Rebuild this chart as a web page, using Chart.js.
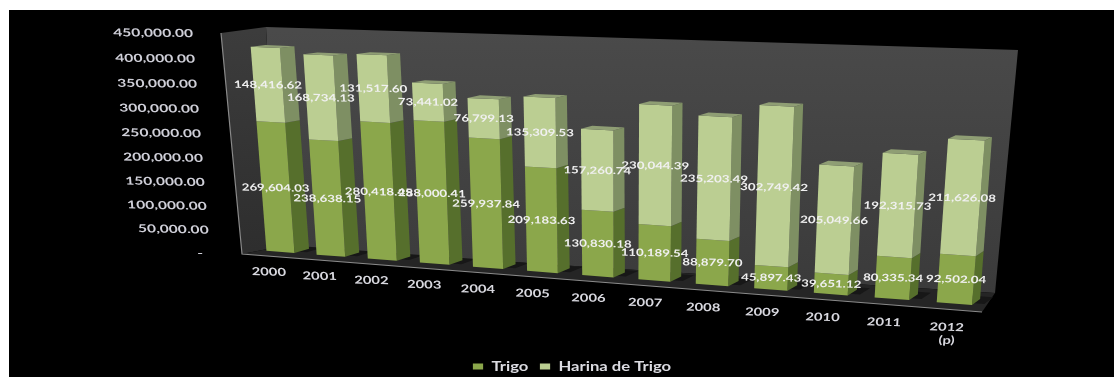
<!DOCTYPE html>
<html>
<head>
<meta charset="utf-8">
<title>Trigo y Harina de Trigo</title>
<script src="https://cdn.jsdelivr.net/npm/chart.js@4/dist/chart.umd.min.js"></script>
<style>
  html, body { margin: 0; padding: 0; background: #fff; overflow: hidden; }
  #wrap { position: absolute; left: 0; top: 0; width: 1114px; height: 377px; }
  canvas { filter: blur(0.45px); }
</style>
</head>
<body>
<div id="wrap"><canvas id="chart"></canvas></div>
<script>
const years = ['2000', '2001', '2002', '2003', '2004', '2005', '2006', '2007', '2008', '2009', '2010', '2011', ['2012', '(p)']];
const trigo = [269604.03, 238638.15, 280418.45, 288000.41, 259937.84, 209183.63, 130830.18, 110189.54, 88879.70, 45897.43, 39651.12, 80335.34, 92502.04];
const harina = [148416.62, 168734.13, 131517.60, 73441.02, 76799.13, 135309.53, 157260.74, 230044.39, 235203.49, 302749.42, 205049.66, 192315.73, 211626.08];

const LABEL_FONT = 'Lato, sans-serif';

// plane of the bar fronts on screen: value 0 / axis max, first / last category edge
const PLANE = { bl: [255.5, 250], br: [986, 306], tr: [1006, 58], tl: [238, 30] };
// how far one bar depth pushes a point, same corners
const DEPTH = { bl: [15, -4], br: [8, -6], tr: [6.7, -2.5], tl: [15, -1.5] };

function makeHomography(q) {
    const [x0, y0] = q.bl, [x1, y1] = q.br, [x2, y2] = q.tr, [x3, y3] = q.tl;
    const dx1 = x1 - x2, dx2 = x3 - x2, sx = x0 - x1 + x2 - x3;
    const dy1 = y1 - y2, dy2 = y3 - y2, sy = y0 - y1 + y2 - y3;
    const den = dx1 * dy2 - dx2 * dy1;
    const g = (sx * dy2 - dx2 * sy) / den;
    const h = (dx1 * sy - sx * dy1) / den;
    const a = x1 - x0 + g * x1, b = x3 - x0 + h * x3;
    const d = y1 - y0 + g * y1, e = y3 - y0 + h * y3;
    return (u, v) => {
        const w = g * u + h * v + 1;
        return [(a * u + b * v + x0) / w, (d * u + e * v + y0) / w];
    };
}
const homography = makeHomography(PLANE);

function project(u, v, depth) {
    const p = homography(u, v);
    const mix = i => (DEPTH.bl[i] * (1 - u) + DEPTH.br[i] * u) * (1 - v) + (DEPTH.tl[i] * (1 - u) + DEPTH.tr[i] * u) * v;
    return [p[0] + mix(0) * depth, p[1] + mix(1) * depth];
}

function fillPoly(ctx, pts, color) {
    ctx.beginPath();
    pts.forEach((p, i) => i ? ctx.lineTo(p[0], p[1]) : ctx.moveTo(p[0], p[1]));
    ctx.closePath();
    ctx.fillStyle = color;
    ctx.fill();
}

// text sitting in the tilted plane, stretched sideways like the original
function planeText(ctx, text, u, v, depth, opts) {
    const p = project(u, v, depth);
    const q = project(u + 0.02, v, depth);
    const r = project(u, v + 0.02, depth);
    let ex = [q[0] - p[0], q[1] - p[1]];
    let ey = [p[0] - r[0], p[1] - r[1]];
    const lx = Math.hypot(ex[0], ex[1]), ly = Math.hypot(ey[0], ey[1]);
    ex = [ex[0] / lx * opts.stretch, ex[1] / lx * opts.stretch * opts.tilt];
    ey = [ey[0] / ly, ey[1] / ly];
    ctx.save();
    ctx.setTransform(ex[0], ex[1], ey[0], ey[1], p[0] + (opts.dx || 0), p[1] + (opts.dy || 0));
    ctx.font = opts.font;
    ctx.fillStyle = opts.color;
    ctx.textAlign = opts.align;
    ctx.textBaseline = 'middle';
    ctx.fillText(text, 0, 0);
    ctx.restore();
}

function drawRoom(ctx) {
    const back = ctx.createLinearGradient(0, 30, 0, 300);
    back.addColorStop(0, '#4a4a4a');
    back.addColorStop(1, '#3a3a3a');
    fillPoly(ctx, [[266, 27], [1018, 50], [995, 293], [278, 247]], back);
    const side = ctx.createLinearGradient(0, 30, 0, 250);
    side.addColorStop(0, '#3c3c3c');
    side.addColorStop(1, '#2e2e2e');
    fillPoly(ctx, [[221, 33], [266, 27], [278, 247], [242, 254]], side);
    fillPoly(ctx, [[242, 254], [278, 247], [995, 293], [982, 312]], '#252525');
    ctx.strokeStyle = '#8a8a8a';
    ctx.lineWidth = 1.2;
    ctx.beginPath();
    ctx.moveTo(221, 33);
    ctx.lineTo(242, 254);
    ctx.lineTo(982, 312);
    ctx.stroke();
}

const faceColors = [
    { front: '#8ba74b', side: '#566f2c', top: '#6f8a3c' },
    { front: '#bbce92', side: '#7e8f63', top: '#8f9e74' }
];

function barBox(chart, el) {
    const area = chart.chartArea;
    return {
        u0: (el.x - el.width / 2 - area.left) / area.width,
        u1: (el.x + el.width / 2 - area.left) / area.width,
        v0: (area.bottom - el.base) / area.height,
        v1: (area.bottom - el.y) / area.height
    };
}

function drawShadow(ctx, chart, el) {
    const { u0, u1, v0 } = barBox(chart, el);
    fillPoly(ctx, [project(u0, v0, 0.3), project(u1 + 0.012, v0, 0.3), project(u1 + 0.012, v0, 1.4), project(u0, v0, 1.4)], '#171717');
}

function drawBar(ctx, chart, el, dsIndex) {
    const { u0, u1, v0, v1 } = barBox(chart, el);
    const c = faceColors[dsIndex];
    fillPoly(ctx, [project(u1, v0, 0), project(u1, v0, 1), project(u1, v1, 1), project(u1, v1, 0)], c.side);
    fillPoly(ctx, [project(u0, v0, 0), project(u1, v0, 0), project(u1, v1, 0), project(u0, v1, 0)], c.front);
    if (dsIndex === 1) {
        fillPoly(ctx, [project(u0, v1, 0), project(u1, v1, 0), project(u1, v1, 1), project(u0, v1, 1)], c.top);
    }
}

const perspective3d = {
    id: 'perspective3d',
    afterLayout(chart) {
        // the legend is wider and lower than chart.js puts it
        const legend = chart.legend;
        if (legend.stretched) return;
        legend.stretched = true;
        const draw = legend.draw.bind(legend);
        legend.draw = () => {
            const ctx = chart.ctx;
            const cx = (legend.left + legend.right) / 2;
            ctx.save();
            ctx.translate(cx, 8);
            ctx.scale(1.28, 1);
            ctx.translate(-cx, 0);
            draw();
            ctx.restore();
        };
    },
    beforeDraw(chart) {
        const ctx = chart.ctx;
        ctx.save();
        ctx.fillStyle = '#fff';
        ctx.fillRect(0, 0, chart.width, chart.height);
        ctx.fillStyle = '#000';
        ctx.fillRect(9, 10, chart.width - 9, chart.height - 10);
        drawRoom(ctx);
        ctx.restore();
    },
    beforeDatasetsDraw(chart) {
        const ctx = chart.ctx;
        const area = chart.chartArea;
        const metas = chart.data.datasets.map((ds, d) => chart.getDatasetMeta(d));
        ctx.save();
        metas[0].data.forEach(el => drawShadow(ctx, chart, el));
        for (let i = years.length - 1; i >= 0; i--) {
            metas.forEach((meta, d) => drawBar(ctx, chart, meta.data[i], d));
        }
        ctx.restore();

        // y axis labels
        const yScale = chart.scales.y;
        yScale.ticks.forEach(t => {
            const v = (area.bottom - yScale.getPixelForValue(t.value)) / area.height;
            planeText(ctx, t.label, 0, v, 0, {
                font: 'bold 11px ' + LABEL_FONT, color: '#cfcfd8', align: 'right', stretch: 1.42, tilt: 0.3, dx: -45, dy: 3.5
            });
        });

        // category labels, multi line ones go below
        const xScale = chart.scales.x;
        years.forEach((label, i) => {
            const u = (xScale.getPixelForTick(i) - area.left) / area.width;
            [].concat(label).forEach((line, n) => {
                planeText(ctx, line, u, -0.075, -1, {
                    font: 'bold 11px ' + LABEL_FONT, color: '#d8d8df', align: 'center', stretch: 1.35, tilt: 0.3, dx: 2, dy: n * 13
                });
            });
        });

        // value labels in the middle of each segment
        chart.data.datasets.forEach((ds, d) => {
            metas[d].data.forEach((el, i) => {
                const u = (el.x - area.left) / area.width;
                const v = (area.bottom - (el.y + el.base) / 2) / area.height;
                const text = ds.data[i].toLocaleString('en-US', { minimumFractionDigits: 2, maximumFractionDigits: 2 });
                planeText(ctx, text, u, v, 0, {
                    font: 'bold 10px ' + LABEL_FONT, color: '#f0f0f0', align: 'center', stretch: 1.33, tilt: 0.3
                });
            });
        });
        return false;
    }
};

new Chart(document.getElementById('chart'), {
    type: 'bar',
    data: {
        labels: years,
        datasets: [
            { label: 'Trigo', data: trigo, backgroundColor: '#8ba74b' },
            { label: 'Harina de Trigo', data: harina, backgroundColor: '#bbce92' }
        ]
    },
    options: {
        responsive: true,
        maintainAspectRatio: false,
        animation: false,
        layout: { padding: { left: 30, bottom: 2 } },
        datasets: { bar: { categoryPercentage: 1, barPercentage: 0.56 } },
        scales: {
            x: {
                stacked: true,
                grid: { display: false },
                border: { display: false },
                ticks: { display: false }
            },
            y: {
                stacked: true,
                min: 0,
                max: 450000,
                grid: { display: false },
                border: { display: false },
                ticks: {
                    display: false,
                    stepSize: 50000,
                    callback: value => value === 0 ? '-  ' : value.toLocaleString('en-US', { minimumFractionDigits: 2 })
                }
            }
        },
        plugins: {
            tooltip: { enabled: false },
            legend: {
                position: 'bottom',
                labels: {
                    color: '#dcdce2',
                    font: { family: 'Lato', size: 13, weight: 'bold' },
                    boxWidth: 8,
                    boxHeight: 6,
                    padding: 9
                }
            }
        }
    },
    plugins: [perspective3d]
});
</script>
</body>
</html>
